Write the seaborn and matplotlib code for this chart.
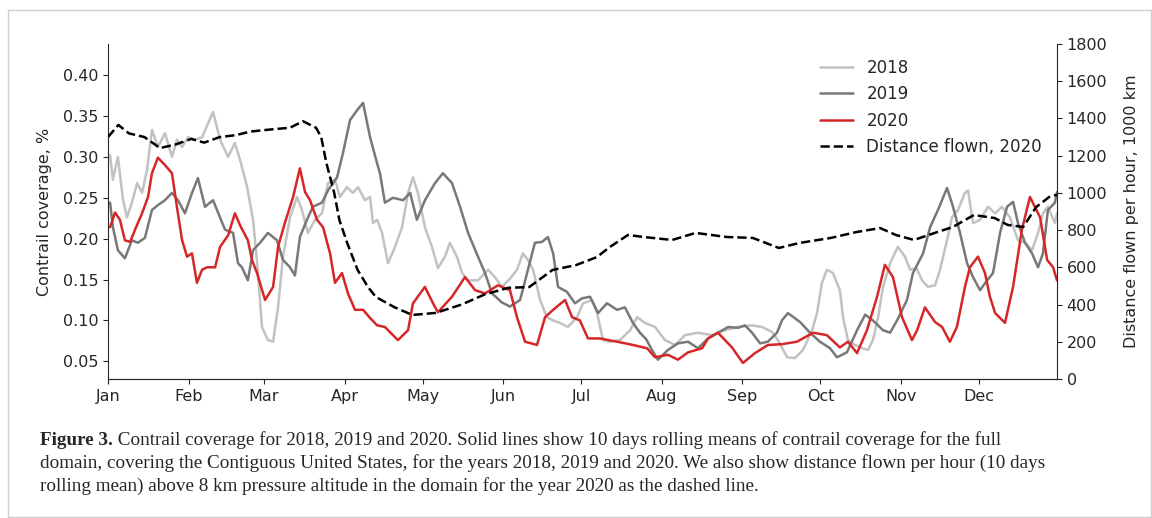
import matplotlib
matplotlib.use("Agg")
import matplotlib.pyplot as plt
from matplotlib.patches import Rectangle
import seaborn as sns
import pandas as pd

# day of year / 10-day rolling contrail coverage (%)
days_2018 = [0.8, 1.9, 3.8, 5.8, 7.3, 9.2, 11.2, 13.1, 15, 16.9,
             19.2, 21.9, 24.6, 26.5, 28.5, 30.8, 33.5, 36.2, 38.5, 40.4,
             43.1, 46.2, 48.8, 51, 53.5, 55.8, 57.7, 59.2, 61.5, 63.5,
             65.4, 67.3, 70, 72.7, 74.6, 76.9, 79.6, 82.3, 84.6, 87.3,
             89.2, 91.9, 94.2, 96.2, 98.8, 100.8, 101.9, 103.5, 105.4, 107.7,
             110.4, 113.1, 115.4, 117.3, 119.2, 121.9, 124.6, 126.9, 129.6, 131.5,
             134.2, 136.2, 138.5, 142.3, 146.2, 148.8, 151.5, 154.6, 157.3, 159.6,
             161.5, 163.5, 166.2, 168.8, 171.2, 173.8, 176.9, 180.4, 182.7, 186.2,
             188.1, 190.4, 193.1, 196.9, 200.8, 203.5, 206.5, 210.4, 214.2, 218.1,
             221.9, 226.9, 232.3, 237.3, 242.3, 247.7, 251.5, 255.4, 258, 261.2,
             264.2, 267.3, 270.8, 272.7, 274.6, 276.5, 278.8, 281.5, 282.7, 284.6,
             287.3, 290, 292.3, 294.2, 296.2, 298.1, 300.8, 303.8, 306.5, 308.5,
             311, 313.1, 315.4, 318.1, 320, 322.7, 324.6, 326.9, 329.6, 330.8,
             332.7, 335.4, 338.5, 341.2, 343.8, 346.9, 350, 352.7, 355.4, 357.7,
             359.6, 361.5, 364.2, 365]
cov_2018 = [0.302, 0.272, 0.300, 0.247, 0.226, 0.244, 0.268, 0.256, 0.284, 0.333,
            0.312, 0.329, 0.300, 0.321, 0.312, 0.324, 0.321, 0.324, 0.341, 0.355,
            0.321, 0.300, 0.317, 0.294, 0.263, 0.223, 0.158, 0.092, 0.076, 0.074,
            0.116, 0.178, 0.226, 0.251, 0.235, 0.207, 0.223, 0.231, 0.268, 0.272,
            0.251, 0.263, 0.256, 0.263, 0.247, 0.251, 0.219, 0.223, 0.207, 0.170,
            0.190, 0.214, 0.256, 0.275, 0.256, 0.214, 0.190, 0.164, 0.178, 0.195,
            0.178, 0.158, 0.149, 0.149, 0.162, 0.153, 0.141, 0.151, 0.162, 0.182,
            0.174, 0.162, 0.125, 0.104, 0.100, 0.097, 0.092, 0.104, 0.121, 0.125,
            0.109, 0.076, 0.074, 0.076, 0.088, 0.104, 0.097, 0.092, 0.076, 0.070,
            0.082, 0.085, 0.082, 0.088, 0.092, 0.094, 0.092, 0.086, 0.074, 0.055,
            0.054, 0.064, 0.088, 0.109, 0.146, 0.162, 0.158, 0.137, 0.104, 0.076,
            0.070, 0.066, 0.064, 0.076, 0.104, 0.141, 0.170, 0.190, 0.178, 0.162,
            0.164, 0.149, 0.141, 0.143, 0.162, 0.198, 0.226, 0.235, 0.256, 0.259,
            0.219, 0.223, 0.239, 0.231, 0.239, 0.226, 0.198, 0.195, 0.186, 0.207,
            0.231, 0.239, 0.219, 0.231]

days_2019 = [0.8, 1.9, 3.8, 6.5, 9.2, 11.5, 14.2, 16.9, 19.2, 21.9,
             24.6, 26.9, 29.6, 32.3, 34.6, 37.3, 40.4, 43.1, 45, 48.1,
             50, 51.5, 53.8, 55.8, 58.5, 61.5, 65, 67.3, 70, 71.9,
             73.8, 76.5, 78.8, 82.3, 84.6, 88.1, 90.4, 93.1, 95.8, 98.1,
             100.8, 103.5, 104.6, 106.5, 109.6, 113.5, 116.2, 118.8, 121.9, 125.8,
             128.8, 132.3, 135.4, 138.5, 142.3, 145, 147.7, 151.5, 154.6, 158.5,
             161.5, 164.2, 166.9, 169.2, 171.2, 173.1, 176.5, 179.6, 182.3, 185.4,
             188.5, 191.9, 195.8, 198.8, 201.9, 204.6, 207, 209.2, 211.5, 215.4,
             219.2, 223.1, 226.9, 230.8, 234.6, 238.5, 242.3, 245, 247.7, 250.8,
             253.8, 257.3, 259.2, 261.5, 266.2, 270, 273.8, 277.7, 280.4, 284.2,
             288.1, 291.2, 294.2, 298.1, 300.8, 303.5, 307.3, 309.6, 313.5, 316.2,
             319.2, 322.7, 325, 327.7, 330.4, 332.7, 335.4, 338.1, 340.4, 343.1,
             345.8, 348.1, 350, 352.7, 355.4, 357.7, 359.6, 361.5, 364.2, 365]
cov_2019 = [0.244, 0.214, 0.186, 0.176, 0.198, 0.195, 0.201, 0.235, 0.241, 0.247,
            0.256, 0.247, 0.231, 0.256, 0.274, 0.239, 0.247, 0.226, 0.211, 0.207,
            0.170, 0.165, 0.149, 0.186, 0.195, 0.207, 0.198, 0.174, 0.165, 0.155,
            0.202, 0.223, 0.239, 0.244, 0.259, 0.275, 0.305, 0.345, 0.357, 0.366,
            0.324, 0.292, 0.280, 0.244, 0.250, 0.247, 0.256, 0.223, 0.247, 0.268,
            0.280, 0.268, 0.239, 0.207, 0.178, 0.158, 0.133, 0.122, 0.117, 0.125,
            0.162, 0.195, 0.196, 0.202, 0.182, 0.141, 0.135, 0.121, 0.127, 0.129,
            0.109, 0.121, 0.113, 0.116, 0.097, 0.085, 0.077, 0.064, 0.052, 0.064,
            0.072, 0.074, 0.066, 0.078, 0.085, 0.092, 0.091, 0.094, 0.085, 0.072,
            0.074, 0.085, 0.100, 0.109, 0.098, 0.085, 0.074, 0.066, 0.055, 0.061,
            0.088, 0.107, 0.100, 0.088, 0.085, 0.100, 0.125, 0.158, 0.182, 0.214,
            0.235, 0.262, 0.239, 0.207, 0.170, 0.153, 0.137, 0.149, 0.158, 0.207,
            0.239, 0.245, 0.219, 0.195, 0.182, 0.165, 0.182, 0.235, 0.244, 0.257]

days_2020 = [0.8, 2.7, 4.6, 6.5, 8.5, 10.4, 13.1, 15.4, 16.9, 19.2,
             21.9, 24.6, 26.5, 28.5, 30.4, 32.3, 34.2, 36.2, 38.1, 41.2,
             43.1, 46.2, 48.8, 51, 53.8, 55.4, 57.3, 60.4, 63.5, 65.4,
             68.1, 71.2, 73.8, 75.8, 77.7, 80.4, 82.7, 85.4, 87.3, 90,
             92.3, 95, 98.1, 100.8, 103.5, 106.5, 111.5, 115.4, 117.3, 121.9,
             125, 126.9, 132.3, 137.3, 141.2, 145, 150, 154.6, 157.3, 160.4,
             165, 168.1, 171.2, 175.8, 178.5, 181.5, 184.6, 189.2, 195.8, 201.9,
             207.3, 210.4, 215.4, 219.2, 223.1, 228.5, 230.8, 234.6, 240, 244.2,
             248.8, 253.8, 259.2, 265, 271.2, 276.5, 281.5, 284.6, 288.1, 291.9,
             295.8, 298.8, 301.9, 305.4, 309.2, 311.2, 314.2, 318.1, 320.8, 323.8,
             326.5, 329.6, 331.5, 334.6, 337.3, 339.2, 341.2, 345, 348.1, 351.5,
             354.6, 358.5, 361.2, 363.5, 365]
cov_2020 = [0.214, 0.232, 0.223, 0.198, 0.196, 0.211, 0.231, 0.251, 0.280, 0.299,
            0.290, 0.280, 0.239, 0.198, 0.178, 0.182, 0.146, 0.162, 0.165, 0.165,
            0.190, 0.204, 0.231, 0.215, 0.198, 0.174, 0.158, 0.125, 0.141, 0.190,
            0.220, 0.251, 0.286, 0.257, 0.247, 0.223, 0.214, 0.182, 0.146, 0.158,
            0.133, 0.113, 0.113, 0.103, 0.094, 0.092, 0.076, 0.088, 0.121, 0.141,
            0.121, 0.110, 0.129, 0.153, 0.137, 0.133, 0.143, 0.137, 0.104, 0.074,
            0.070, 0.104, 0.113, 0.125, 0.104, 0.100, 0.078, 0.078, 0.074, 0.070,
            0.066, 0.055, 0.058, 0.052, 0.061, 0.066, 0.078, 0.085, 0.067, 0.048,
            0.060, 0.070, 0.071, 0.074, 0.085, 0.082, 0.067, 0.074, 0.060, 0.088,
            0.129, 0.168, 0.153, 0.104, 0.076, 0.088, 0.116, 0.098, 0.092, 0.074,
            0.092, 0.141, 0.165, 0.178, 0.158, 0.129, 0.109, 0.097, 0.141, 0.211,
            0.251, 0.226, 0.174, 0.165, 0.149]

# distance flown per hour above 8 km, 2020 (1000 km)
days_dist = [0, 4, 8, 14, 20, 26, 32, 37, 43, 49,
             55, 62, 70, 75, 80, 82, 84, 87, 89, 92,
             96, 100, 103, 110, 117, 126, 136, 145, 154, 162,
             171, 180, 188, 193, 200, 206, 217, 226, 238, 248,
             258, 266, 278, 288, 297, 303, 310, 318, 325, 333,
             341, 346, 352, 357, 362, 365]
dist_2020 = [1300, 1365, 1320, 1300, 1241, 1260, 1290, 1270, 1300, 1310,
             1330, 1340, 1350, 1385, 1350, 1300, 1160, 1000, 854, 731,
             586, 494, 441, 387, 344, 355, 400, 455, 490, 494,
             586, 612, 655, 709, 774, 763, 747, 785, 763, 758,
             704, 731, 758, 790, 811, 774, 747, 785, 817, 881,
             865, 828, 817, 924, 978, 990]

month_starts = [0, 31, 60, 91, 121, 152, 182, 213, 244, 274, 305, 335]
month_names = ['Jan', 'Feb', 'Mar', 'Apr', 'May', 'Jun',
               'Jul', 'Aug', 'Sep', 'Oct', 'Nov', 'Dec']

caption_lines = [
    "Contrail coverage for 2018, 2019 and 2020. Solid lines show 10 days rolling means of contrail coverage for the full",
    "domain, covering the Contiguous United States, for the years 2018, 2019 and 2020. We also show distance flown per hour (10 days",
    "rolling mean) above 8 km pressure altitude in the domain for the year 2020 as the dashed line.",
]

cov = pd.concat([
    pd.DataFrame({'day': days_2018, 'coverage': cov_2018, 'year': '2018'}),
    pd.DataFrame({'day': days_2019, 'coverage': cov_2019, 'year': '2019'}),
    pd.DataFrame({'day': days_2020, 'coverage': cov_2020, 'year': '2020'}),
])
dist = pd.DataFrame({'day': days_dist, 'distance': dist_2020})

sns.set_style("ticks")
plt.rcParams['font.family'] = ['DejaVu Sans']

fig = plt.figure(figsize=(11.52, 5.18), dpi=100)
ax = fig.add_axes([108 / 1152, 1 - 379 / 518, 949 / 1152, 335 / 518])
ax2 = ax.twinx()

colors = {'2018': '#c2c2c2', '2019': '#787878', '2020': '#d62728'}
sns.lineplot(data=cov, x='day', y='coverage', hue='year', palette=colors,
             linewidth=1.8, ax=ax)
sns.lineplot(data=dist, x='day', y='distance', color='black', linestyle='--',
             linewidth=1.8, label='Distance flown, 2020', ax=ax2)

ax.set_xlim(0, 365)
ax.set_ylim(0.0284, 0.438)
ax.set_yticks([0.05, 0.10, 0.15, 0.20, 0.25, 0.30, 0.35, 0.40])
ax.set_yticklabels(['0.05', '0.10', '0.15', '0.20', '0.25', '0.30', '0.35', '0.40'])
ax.set_xticks(month_starts)
ax.set_xticklabels(month_names)
ax.set_xlabel('')
ax.set_ylabel('Contrail coverage, %', fontsize=11.5, labelpad=8)
ax.tick_params(labelsize=11.5)

ax2.set_ylim(0, 1800)
ax2.set_yticks(range(0, 1801, 200))
ax2.set_ylabel('Distance flown per hour, 1000 km', fontsize=11.5, labelpad=12)
ax2.tick_params(labelsize=11.5)

for a in (ax, ax2):
    a.spines['top'].set_visible(False)
ax.spines['right'].set_visible(False)
ax2.spines['left'].set_visible(False)

h1, l1 = ax.get_legend_handles_labels()
h2, l2 = ax2.get_legend_handles_labels()
if ax.get_legend() is not None:
    ax.get_legend().remove()
ax2.legend(h1 + h2, l1 + l2, loc='upper right', frameon=False, fontsize=12)

# caption below the chart
cap_size = 13.8
cap_font = ['Liberation Serif']
y0 = 1 - 445 / 518
bold = fig.text(40 / 1152, y0, 'Figure 3.', fontsize=cap_size, fontweight='bold',
                family=cap_font, va='baseline')
fig.add_artist(plt.Annotation(' ' + caption_lines[0], xy=(1, 0), xycoords=bold,
                              va='bottom', fontsize=cap_size, family=cap_font))
for i, line in enumerate(caption_lines[1:], start=1):
    fig.text(40 / 1152, y0 - i * 23 / 518, line, fontsize=cap_size,
             family=cap_font, va='baseline')

fig.add_artist(Rectangle((8 / 1152, 1 / 518), 1143 / 1152, 507 / 518,
                         transform=fig.transFigure, fill=False,
                         edgecolor='#cfcfcf', linewidth=1))

fig.savefig('out.png', dpi=100)
